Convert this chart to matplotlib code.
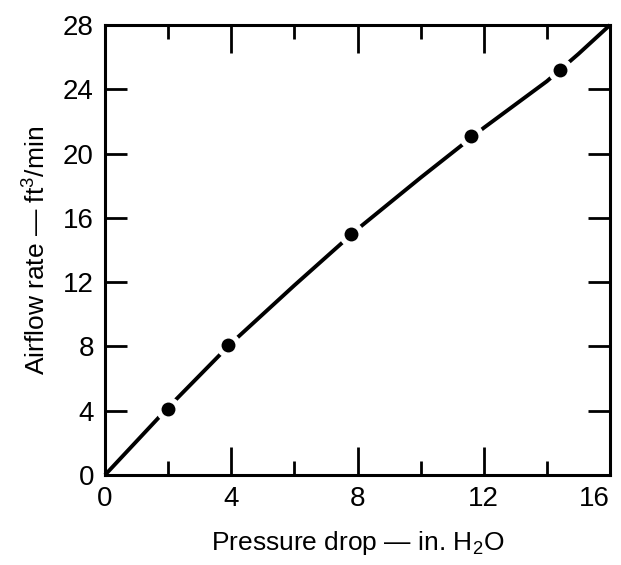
import matplotlib
matplotlib.use("Agg")
import matplotlib.pyplot as plt
from matplotlib.ticker import MultipleLocator

# measured points
pressure = [2.0, 3.9, 7.8, 11.6, 14.4]
airflow = [4.1, 8.1, 15.0, 21.1, 25.2]

# smooth curve
curve_x = [0, 1, 2, 4, 6, 8, 10, 12, 14, 15, 16]
curve_y = [0, 2.1, 4.2, 8.2, 11.8, 15.3, 18.5, 21.6, 24.5, 26.2, 28.0]

xticks = [0, 4, 8, 12, 16]
yticks = [0, 4, 8, 12, 16, 20, 24, 28]

fam = "Liberation Sans"
plt.rcParams['font.family'] = [fam, 'DejaVu Sans']
plt.rcParams['mathtext.fontset'] = 'custom'
plt.rcParams['mathtext.rm'] = fam

fig = plt.figure(figsize=(6.21, 5.65), dpi=100)
ax = fig.add_axes([105 / 621, 1 - 475 / 565, 505 / 621, 450 / 565])

ax.plot(curve_x, curve_y, color="black", lw=2.8, solid_capstyle="butt", zorder=2, clip_on=False)
ax.plot(pressure, airflow, "o", ms=18, color="white", mec="none", zorder=3)
ax.plot(pressure, airflow, "o", ms=10, color="black", mec="none", zorder=4)

ax.set_xlim(0, 16)
ax.set_ylim(0, 28)
ax.set_xticks(xticks)
ax.set_yticks(yticks)
ax.xaxis.set_minor_locator(MultipleLocator(2))
ax.tick_params(which="major", direction="in", length=20, width=2, top=True, right=True,
               labelsize=20, pad=8)
ax.tick_params(which="minor", direction="in", length=10, width=2, top=True, bottom=True)
ax.tick_params(axis="y", which="major", length=16)
for s in ax.spines.values():
    s.set_linewidth(2.2)

# last label sits flush with the right edge
ax.get_xticklabels()[-1].set_horizontalalignment("right")

ax.set_xlabel("Pressure drop — in. H$_2$O", fontsize=19, labelpad=12)
ax.set_ylabel("Airflow rate — ft$^3$/min", fontsize=19, labelpad=10)

fig.savefig("out.png", dpi=100)
